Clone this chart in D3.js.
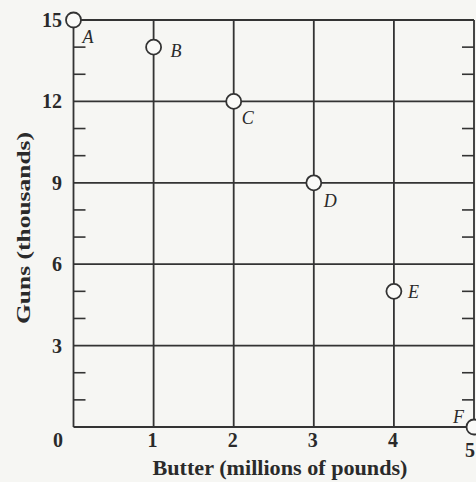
<!DOCTYPE html>
<html><head><meta charset="utf-8">
<script src="https://cdn.jsdelivr.net/npm/d3@7"></script>
<style>
html,body{margin:0;padding:0;background:#f6f6f3;}
svg{display:block;}
text{font-family:"Liberation Serif","DejaVu Serif",serif;fill:#2a2a2a;}
</style></head>
<body>
<script>
const labels = ["A","B","C","D","E","F"];
const butter = [0,1,2,3,4,5];
const guns = [15,14,12,9,5,0];
const xTicks = [0,1,2,3,4,5];
const yTicks = [0,3,6,9,12,15];
const yMinor = [1,2,4,5,7,8,10,11,13,14];
const labelOffsets = [[9,23],[17,10],[8,23],[10,24],[14,7],[-21,-4]];

const W=476,H=482;
const svg=d3.select("body").append("svg").attr("width",W).attr("height",H);
const x=d3.scaleLinear().domain([0,5]).range([73.5,474]);
const y=d3.scaleLinear().domain([0,15]).range([427,20]);
const ink="#333";

// grid
svg.append("g").selectAll("line").data(yTicks).join("line")
  .attr("x1",x(0)).attr("x2",x(5)).attr("y1",d=>y(d)).attr("y2",d=>y(d))
  .attr("stroke",ink).attr("stroke-width",1.8);
svg.append("g").selectAll("line").data(xTicks).join("line")
  .attr("y1",y(0)).attr("y2",y(15)).attr("x1",d=>x(d)).attr("x2",d=>x(d))
  .attr("stroke",ink).attr("stroke-width",1.8);
// minor ticks left and right
svg.append("g").selectAll("line").data(yMinor).join("line")
  .attr("x1",x(0)).attr("x2",x(0)+12).attr("y1",d=>y(d)).attr("y2",d=>y(d))
  .attr("stroke",ink).attr("stroke-width",1.6);
svg.append("g").selectAll("line").data(yMinor).join("line")
  .attr("x1",x(5)).attr("x2",x(5)-12).attr("y1",d=>y(d)).attr("y2",d=>y(d))
  .attr("stroke",ink).attr("stroke-width",1.6);

// tick labels
svg.append("g").selectAll("text").data(yTicks.filter(d=>d>0)).join("text")
  .attr("x",62).attr("y",d=>y(d)+7).attr("text-anchor","end")
  .attr("font-size",20).attr("font-weight","bold").text(d=>d);
svg.append("text").attr("x",58).attr("y",y(0)+20).attr("text-anchor","middle")
  .attr("font-size",20).attr("font-weight","bold").text("0");
svg.append("g").selectAll("text").data(xTicks.filter(d=>d>0)).join("text")
  .attr("x",d=>d===5?475:x(d)-1).attr("y",d=>y(0)+(d===5?30:20))
  .attr("text-anchor",d=>d===5?"end":"middle")
  .attr("font-size",20).attr("font-weight","bold").text(d=>d);

// axis titles
svg.append("text").attr("x",280).attr("y",475).attr("text-anchor","middle")
  .attr("font-size",20).attr("font-weight","bold")
  .attr("textLength",255).attr("lengthAdjust","spacingAndGlyphs")
  .text("Butter (millions of pounds)");
svg.append("text").attr("transform","translate(30,228) rotate(-90)").attr("text-anchor","middle")
  .attr("font-size",19).attr("font-weight","bold")
  .attr("textLength",192).attr("lengthAdjust","spacingAndGlyphs")
  .text("Guns (thousands)");

// points
svg.append("g").selectAll("circle").data(butter).join("circle")
  .attr("cx",(d,i)=>x(d)).attr("cy",(d,i)=>y(guns[i])).attr("r",7.5)
  .attr("fill","#fafaf8").attr("stroke",ink).attr("stroke-width",1.8);
svg.append("g").selectAll("text").data(labels).join("text")
  .attr("x",(d,i)=>x(butter[i])+labelOffsets[i][0]).attr("y",(d,i)=>y(guns[i])+labelOffsets[i][1])
  .attr("font-size",18).attr("font-style","italic").text(d=>d);
</script>
</body></html>
